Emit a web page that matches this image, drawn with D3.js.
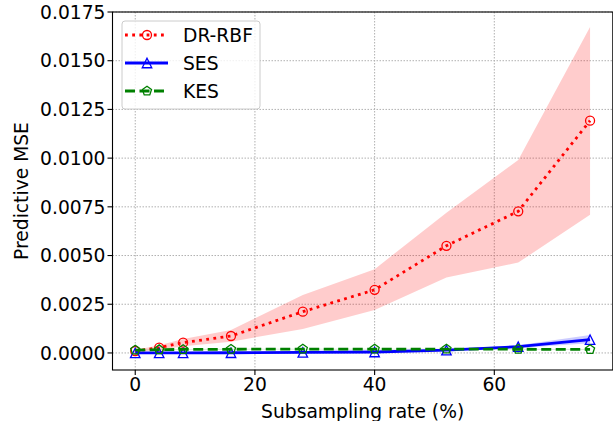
<!DOCTYPE html>
<html><head><meta charset="utf-8">
<script src="https://cdn.jsdelivr.net/npm/d3@7"></script>
<style>body{margin:0;background:#fff}svg{display:block}text{font-family:"DejaVu Sans",sans-serif}</style>
</head><body><svg id="c" width="613" height="421"></svg>
<script>
const xVals = [0, 4, 8, 16, 28, 40, 52, 64, 76];
const drMean = [0.00010, 0.00027, 0.00053, 0.00087, 0.00212, 0.00324, 0.00550, 0.00727, 0.01192];
const drLow  = [0.00005, 0.00015, 0.00035, 0.00058, 0.00123, 0.00220, 0.00387, 0.00464, 0.00709];
const drHigh = [0.00015, 0.00040, 0.00072, 0.00118, 0.00298, 0.00430, 0.00720, 0.00991, 0.01673];
const sesMean = [0.00000, 0.00000, 0.00000, 0.00001, 0.00003, 0.00005, 0.00014, 0.00032, 0.00068];
const sesLow  = [0.00000, 0.00000, 0.00000, 0.00000, 0.00001, 0.00003, 0.00010, 0.00026, 0.00050];
const sesHigh = [0.00002, 0.00002, 0.00002, 0.00003, 0.00005, 0.00008, 0.00018, 0.00039, 0.00092];
const kesMean = [0.00015, 0.00017, 0.00018, 0.00019, 0.00020, 0.00020, 0.00020, 0.00019, 0.00018];
const kesLow  = [0.00013, 0.00015, 0.00016, 0.00017, 0.00018, 0.00018, 0.00018, 0.00017, 0.00016];
const kesHigh = [0.00017, 0.00019, 0.00020, 0.00021, 0.00022, 0.00022, 0.00022, 0.00021, 0.00020];
const xTicks = [0, 20, 40, 60];
const yTicks = [0, 0.0025, 0.005, 0.0075, 0.01, 0.0125, 0.015, 0.0175];
const seriesNames = ["DR-RBF", "SES", "KES"];
const xLabel = "Subsampling rate (%)";
const yLabel = "Predictive MSE";

const svg = d3.select("#c");
const L = 112.5, R = 612.8, T = 12, B = 370;
const x = d3.scaleLinear().domain([-3.8, 79.8]).range([L, R]);
const y = d3.scaleLinear().domain([-0.000875, 0.0175]).range([B, T]);
const FS = 18.7;

// grid
const g = svg.append("g");
xTicks.forEach(t => g.append("line").attr("x1", x(t)).attr("x2", x(t)).attr("y1", T).attr("y2", B)
  .attr("stroke", "#b0b0b0").attr("stroke-width", 1).attr("stroke-dasharray", "1.5,1.5"));
yTicks.forEach(t => g.append("line").attr("x1", L).attr("x2", R).attr("y1", y(t)).attr("y2", y(t))
  .attr("stroke", "#b0b0b0").attr("stroke-width", 1).attr("stroke-dasharray", "1.5,1.5"));

const series = [
  {name: seriesNames[0], mean: drMean, lo: drLow, hi: drHigh, color: "#ff0000", dash: "2.8,4.4", cap: "butt", marker: "circle"},
  {name: seriesNames[1], mean: sesMean, lo: sesLow, hi: sesHigh, color: "#0000ff", dash: null, cap: "butt", marker: "triangle"},
  {name: seriesNames[2], mean: kesMean, lo: kesLow, hi: kesHigh, color: "#008000", dash: "10,4.5", cap: "butt", marker: "pentagon"}
];

const area = d3.area().x((d, i) => x(xVals[i])).y0(d => y(d[0])).y1(d => y(d[1]));
const line = d3.line().x((d, i) => x(xVals[i])).y(d => y(d));

const plot = svg.append("g");

series.forEach(s => {
  plot.append("path").datum(s.lo.map((v, i) => [v, s.hi[i]])).attr("d", area)
    .attr("fill", s.color).attr("fill-opacity", 0.2).attr("stroke", "none");
});

function markerPath(type, sz) {
  const r = sz / 2;
  if (type === "triangle") return `M0,${-r}L${r},${r}L${-r},${r}Z`;
  if (type === "pentagon") {
    let p = [];
    for (let k = 0; k < 5; k++) { const a = -Math.PI / 2 + k * 2 * Math.PI / 5; p.push([r * Math.cos(a), r * Math.sin(a)]); }
    return "M" + p.map(q => q[0].toFixed(2) + "," + q[1].toFixed(2)).join("L") + "Z";
  }
  return null;
}
function drawMarker(sel, type, cx, cy, color) {
  if (type === "circle") {
    sel.append("circle").attr("cx", cx).attr("cy", cy).attr("r", 4.5).attr("fill", "none").attr("stroke", color).attr("stroke-width", 1.3);
  } else {
    sel.append("path").attr("d", markerPath(type, 9.5)).attr("transform", `translate(${cx},${cy})`)
      .attr("fill", "none").attr("stroke", color).attr("stroke-width", 1.3).attr("stroke-linejoin", "miter");
  }
}

series.forEach(s => {
  const p = plot.append("path").datum(s.mean).attr("d", line).attr("fill", "none")
    .attr("stroke", s.color).attr("stroke-width", 2.8).attr("stroke-linecap", s.cap);
  if (s.dash) p.attr("stroke-dasharray", s.dash);
  s.mean.forEach((v, i) => drawMarker(plot, s.marker, x(xVals[i]), y(v), s.color));
});

// spines
svg.append("rect").attr("x", L).attr("y", T).attr("width", R - L).attr("height", B - T)
  .attr("fill", "none").attr("stroke", "#000").attr("stroke-width", 1.1);

// ticks
xTicks.forEach(t => {
  svg.append("line").attr("x1", x(t)).attr("x2", x(t)).attr("y1", B).attr("y2", B + 5).attr("stroke", "#000").attr("stroke-width", 1.1);
  svg.append("text").attr("x", x(t)).attr("y", 390.7).attr("text-anchor", "middle").attr("font-size", FS).text(d3.format("d")(t));
});
yTicks.forEach(t => {
  svg.append("line").attr("x1", L - 5).attr("x2", L).attr("y1", y(t)).attr("y2", y(t)).attr("stroke", "#000").attr("stroke-width", 1.1);
  svg.append("text").attr("x", L - 7).attr("y", y(t)).attr("dy", "0.36em").attr("text-anchor", "end").attr("font-size", FS).text(d3.format(".4f")(t));
});

svg.append("text").attr("x", (L + R) / 2).attr("y", 417.5).attr("text-anchor", "middle").attr("font-size", FS).text(xLabel);
svg.append("text").attr("transform", `translate(28,${(T + B) / 2}) rotate(-90)`).attr("text-anchor", "middle").attr("font-size", FS).text(yLabel);

// legend
const lg = svg.append("g");
lg.append("rect").attr("x", 122).attr("y", 21).attr("width", 138).attr("height", 88).attr("rx", 3)
  .attr("fill", "#fff").attr("fill-opacity", 0.8).attr("stroke", "#cccccc").attr("stroke-width", 1);
series.forEach((s, i) => {
  const yy = 35 + i * 28;
  const l = lg.append("line").attr("x1", 125).attr("x2", 168).attr("y1", yy).attr("y2", yy)
    .attr("stroke", s.color).attr("stroke-width", 2.8).attr("stroke-linecap", s.cap);
  if (s.dash) l.attr("stroke-dasharray", s.dash);
  drawMarker(lg, s.marker, 147, yy, s.color);
  lg.append("text").attr("x", 183).attr("y", yy).attr("dy", "0.36em").attr("font-size", FS).text(s.name);
});
</script></body></html>
